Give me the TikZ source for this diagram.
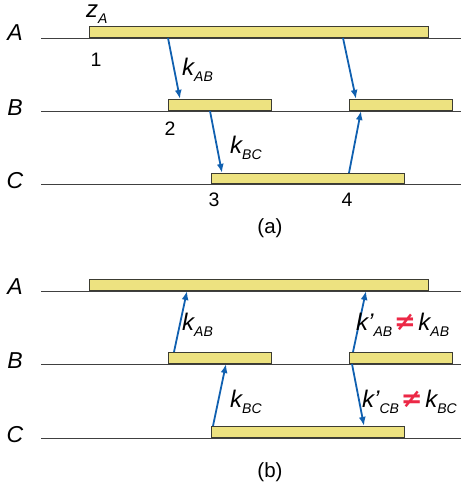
\documentclass[tikz,border=0pt]{standalone}
\usepackage{fontspec}
\setmainfont{Liberation Sans}
\newfontfamily\symfont{DejaVu Sans}
\usetikzlibrary{arrows.meta,calc}
\definecolor{barfill}{RGB}{237,226,128}
\definecolor{barline}{RGB}{60,60,50}
\definecolor{arrowblue}{RGB}{16,96,176}
\definecolor{neqred}{RGB}{236,40,70}
\newcommand{\sbs}[1]{\raisebox{-6pt}{\fontsize{14}{14}\selectfont\itshape #1}}
\newcommand{\neqsign}{\hspace{2pt}{\symfont\bfseries\fontsize{26}{26}\selectfont\textcolor{neqred}{≠}}\hspace{2.5pt}}
\tikzset{
  bar/.style={draw=barline,line width=1.1pt,fill=barfill,anchor=south west,inner sep=0pt,minimum height=11pt},
  level/.style={draw=black!75,line width=1pt},
  rowlab/.style={font=\fontsize{23}{23}\selectfont\itshape,anchor=base,inner sep=0pt},
  klab/.style={font=\fontsize{24}{24}\selectfont\itshape,anchor=base west,inner sep=0pt},
  numlab/.style={font=\fontsize{19.5}{19.5}\selectfont,inner sep=0pt},
  flow/.style={draw=arrowblue,line width=1.8pt,-{Latex[length=9pt,width=7pt]}},
}
\begin{document}
\begin{tikzpicture}[x=1pt,y=-1pt]
\useasboundingbox (0,0) rectangle (461,485);
% ---------- (a) ----------
\foreach \n/\y in {Aa/38,Ba/111,Ca/184} {
  \coordinate (L\n) at (41,\y); \coordinate (R\n) at (461,\y);
  \draw[level] (L\n) -- (R\n);
}
\node[rowlab] (labAa) at (15,40) {A};
\node[rowlab] (labBa) at (15,115) {B};
\node[rowlab] (labCa) at (15,188) {C};
\node[bar,minimum width=339pt] (barAa) at (89,38) {};
\node[bar,minimum width=103pt] (barB1a) at (168,111) {};
\node[bar,minimum width=103pt] (barB2a) at (349,111) {};
\node[bar,minimum width=193pt,minimum height=10pt] (barCa) at (211,184) {};
\draw[flow] ([xshift=79pt]barAa.south west) -- ([xshift=12pt]barB1a.north west);
\draw[flow] ([xshift=254pt]barAa.south west) -- ([xshift=7pt]barB2a.north west);
\draw[flow] ([xshift=42pt]barB1a.south west) -- ([xshift=11pt]barCa.north west);
\draw[flow] ([xshift=138pt]barCa.north west) -- ([xshift=12pt]barB2a.south west);
\node[klab] (zA) at (86,17) {z\sbs{A}};
\node[klab] (kABa) at (182,75) {k\sbs{AB}};
\node[klab] (kBCa) at (230,153) {k\sbs{BC}};
\node[numlab] (n1) at (96,60) {1};
\node[numlab] (n2) at (170,129) {2};
\node[numlab] (n3) at (214,200) {3};
\node[numlab] (n4) at (347,200) {4};
\node[numlab,font=\fontsize{20.5}{20.5}\selectfont] (capa) at (270,228) {(a)};
% ---------- (b) ----------
\foreach \n/\y in {Ab/291,Bb/364,Cb/438} {
  \coordinate (L\n) at (41,\y); \coordinate (R\n) at (461,\y);
  \draw[level] (L\n) -- (R\n);
}
\node[rowlab] (labAb) at (15,294) {A};
\node[rowlab] (labBb) at (15,368) {B};
\node[rowlab] (labCb) at (15,442) {C};
\node[bar,minimum width=339pt] (barAb) at (89,291) {};
\node[bar,minimum width=103pt] (barB1b) at (168,364) {};
\node[bar,minimum width=103pt] (barB2b) at (349,364) {};
\node[bar,minimum width=193pt] (barCb) at (211,438) {};
\draw[flow] ([xshift=6pt]barB1b.north west) -- ([xshift=98pt]barAb.south west);
\draw[flow] ([xshift=4pt]barB2b.north west) -- ([xshift=277pt]barAb.south west);
\draw[flow] ([xshift=2pt]barCb.north west) -- ([xshift=58pt]barB1b.south west);
\draw[flow] ([xshift=3pt]barB2b.south west) -- ([xshift=153pt]barCb.north west);
\node[klab] (kABb) at (182,330) {k\sbs{AB}};
\node[klab] (kpAB) at (356,330) {k’\sbs{AB}\neqsign k\sbs{AB}};
\node[klab] (kBCb) at (230,407) {k\sbs{BC}};
\node[klab] (kpCB) at (362,407) {k’\sbs{CB}\neqsign k\sbs{BC}};
\node[numlab,font=\fontsize{20.5}{20.5}\selectfont] (capb) at (270,472) {(b)};
\end{tikzpicture}
\end{document}
